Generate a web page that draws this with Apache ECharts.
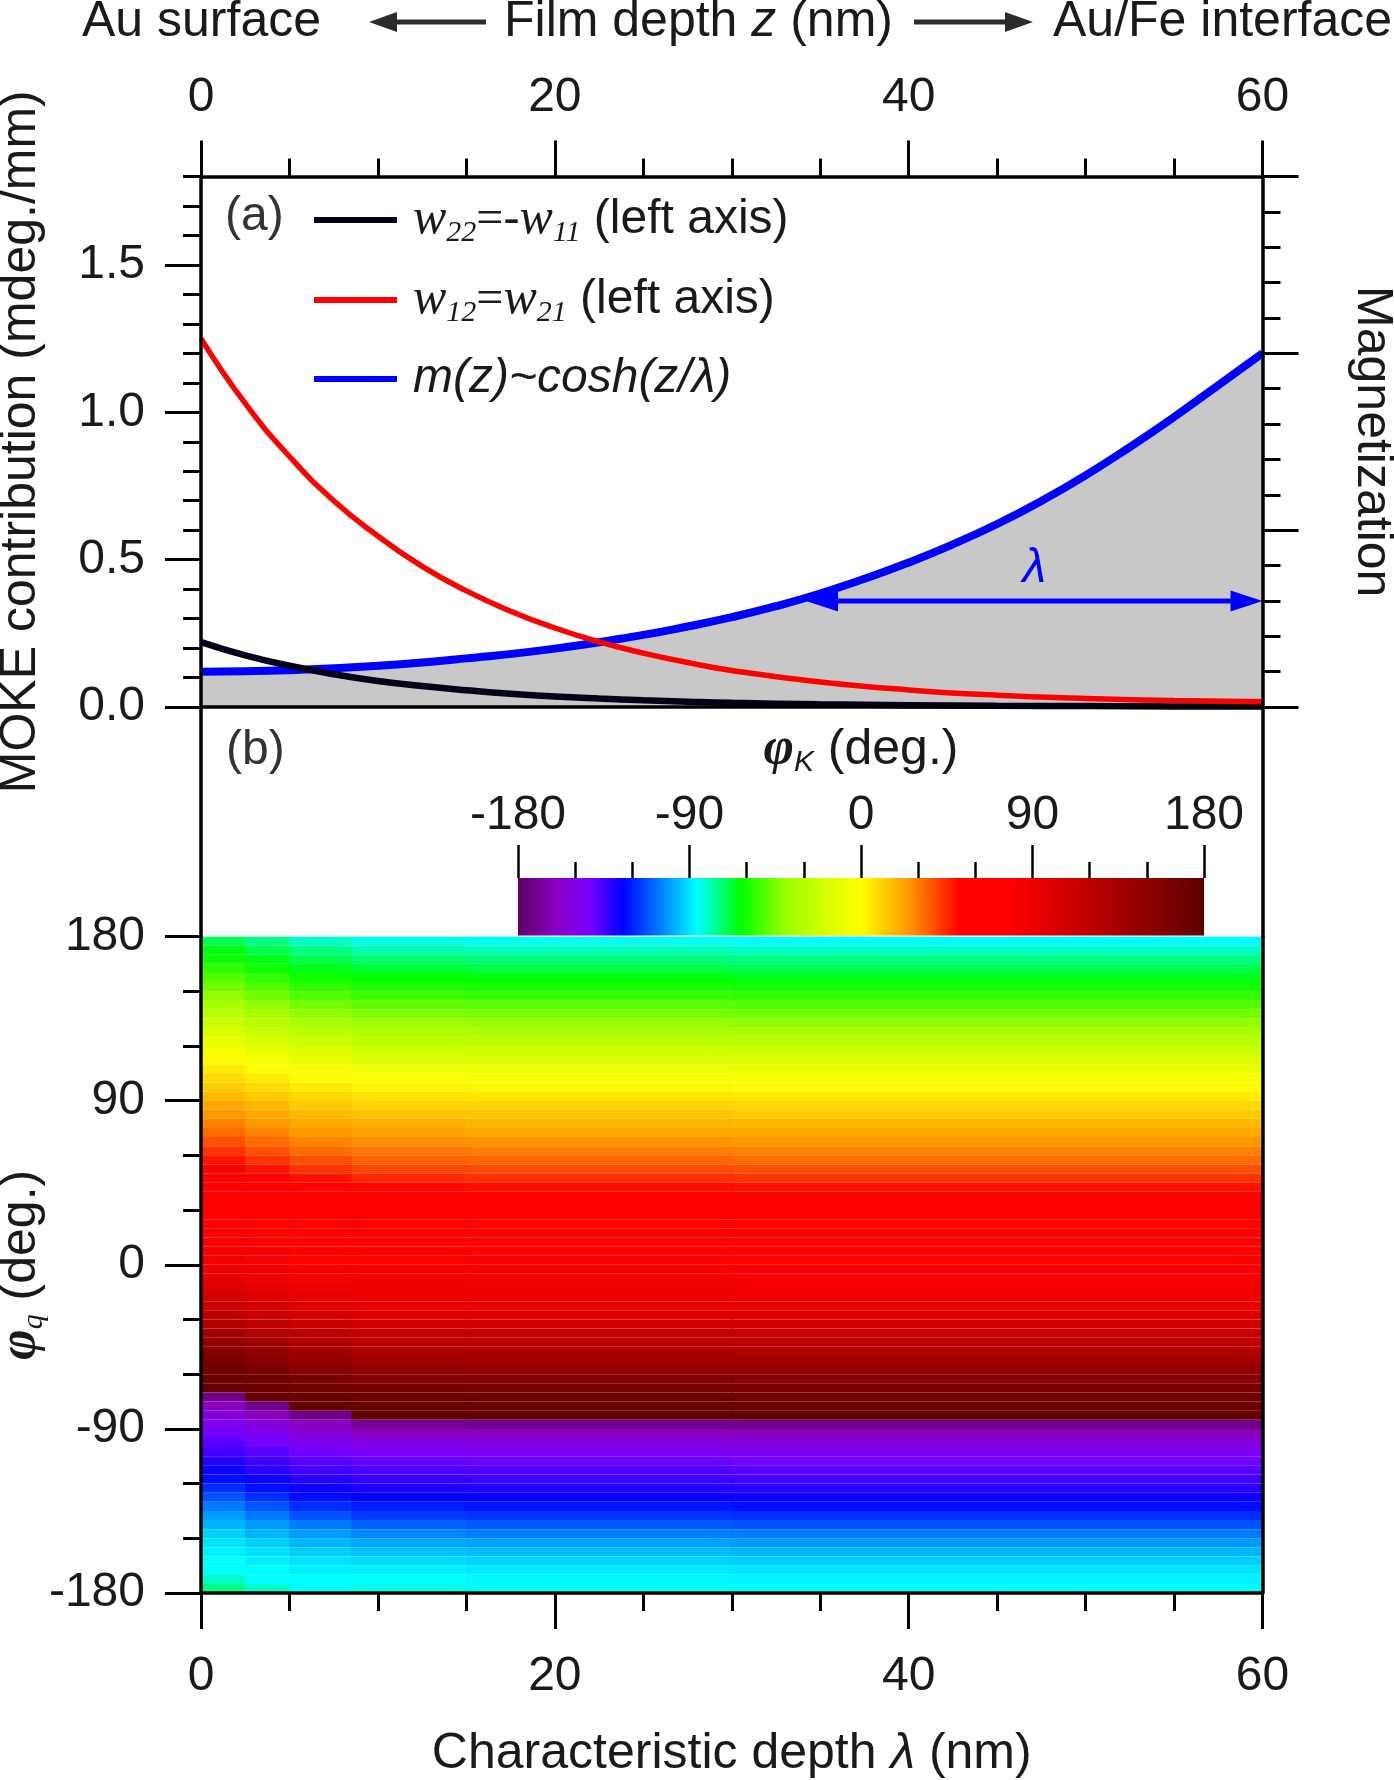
<!DOCTYPE html>
<html>
<head>
<meta charset="utf-8">
<script src="https://cdn.jsdelivr.net/npm/echarts@6/dist/echarts.min.js"></script>
<style>
  html, body { margin: 0; padding: 0; background: #fff; }
  #chart { width: 1394px; height: 1780px; }
</style>
</head>
<body>
<div id="chart"></div>
<script>
// ---- panel (a): contributions along the film depth z (nm) ----
const zPoints = [0, 2.5, 5, 7.5, 10, 12.5, 15, 17.5, 20, 22.5, 25, 27.5, 30, 35, 40, 45, 50, 55, 60];
const w22 = [0.22, 0.175, 0.14, 0.111, 0.088, 0.071, 0.057, 0.045, 0.036, 0.029, 0.023, 0.018, 0.014, 0.009, 0.006, 0.004, 0.003, 0.002, 0.0015];
const w12 = [1.25, 1.03, 0.85, 0.70, 0.58, 0.477, 0.394, 0.325, 0.268, 0.221, 0.183, 0.151, 0.124, 0.085, 0.058, 0.04, 0.029, 0.022, 0.018];
// magnetization, right axis (0..3)
const zMag = [0, 5, 10, 15, 20, 25, 27.5, 30, 32.5, 35, 37.5, 40, 42.5, 45, 47.5, 50, 52.5, 55, 57.5, 60];
const magnetization = [0.2, 0.208, 0.233, 0.275, 0.33, 0.408, 0.455, 0.508, 0.57, 0.642, 0.725, 0.817, 0.92, 1.035,
  1.165, 1.31, 1.47, 1.64, 1.82, 2.0];
// lambda arrow: from z, to z, at magnetization level
const lambdaArrow = [34.2, 60, 0.6];
const leftTicks = [0, 0.5, 1.0, 1.5];

// ---- panel (b): phi_K map over characteristic depth and phi_q ----
const lambdaEdges = [0, 2.5, 5, 8.5, 15, 30, 60];
const phiqRows = [177.5, 172.5, 167.5, 162.5, 157.5, 152.5, 147.5, 142.5, 137.5, 132.5, 127.5, 122.5,
  117.5, 112.5, 107.5, 102.5, 97.5, 92.5, 87.5, 82.5, 77.5, 72.5, 67.5, 62.5,
  57.5, 52.5, 47.5, 42.5, 37.5, 32.5, 27.5, 22.5, 17.5, 12.5, 7.5, 2.5,
  -2.5, -7.5, -12.5, -17.5, -22.5, -27.5, -32.5, -37.5, -42.5, -47.5, -52.5, -57.5,
  -62.5, -67.5, -72.5, -77.5, -82.5, -87.5, -92.5, -97.5, -102.5, -107.5, -112.5, -117.5,
  -122.5, -127.5, -132.5, -137.5, -142.5, -147.5, -152.5, -157.5, -162.5, -167.5, -172.5, -177.5];
const phiK = [
  [-70, -75, -81, -84, -85, -86],
  [-65, -70, -75, -79, -80, -81],
  [-61, -65, -70, -73, -74, -75],
  [-56, -61, -65, -68, -69, -70],
  [-51, -56, -61, -63, -64, -65],
  [-46, -51, -56, -59, -60, -61],
  [-41, -46, -51, -54, -55, -56],
  [-35, -41, -46, -49, -50, -51],
  [-29, -35, -41, -44, -45, -46],
  [-23, -29, -35, -39, -40, -41],
  [-17, -23, -29, -33, -34, -35],
  [-10, -17, -23, -27, -28, -29],
  [-4, -10, -17, -21, -22, -23],
  [1, -4, -10, -15, -16, -17],
  [5, 1, -4, -8, -9, -10],
  [9, 5, 1, -2, -3, -4],
  [13, 9, 5, 3, 2, 1],
  [17, 13, 9, 7, 6, 5],
  [21, 17, 13, 11, 10, 9],
  [25, 21, 17, 15, 14, 13],
  [29, 25, 21, 19, 18, 17],
  [33, 29, 25, 23, 22, 21],
  [38, 33, 29, 27, 26, 25],
  [43, 38, 33, 31, 30, 29],
  [49, 43, 38, 35, 34, 33],
  [55, 49, 43, 40, 39, 38],
  [60, 55, 49, 45, 44, 43],
  [64, 60, 55, 51, 50, 49],
  [68, 64, 60, 57, 56, 55],
  [71, 68, 64, 62, 61, 60],
  [74, 71, 68, 66, 65, 64],
  [77, 74, 71, 70, 69, 68],
  [80, 77, 74, 73, 72, 71],
  [82, 80, 77, 76, 75, 74],
  [84, 82, 80, 79, 78, 77],
  [86, 84, 82, 82, 81, 80],
  [89, 86, 84, 84, 83, 82],
  [93, 89, 86, 86, 85, 84],
  [99, 93, 89, 88, 87, 86],
  [106, 99, 93, 91, 90, 89],
  [113, 106, 99, 95, 94, 93],
  [120, 113, 106, 101, 100, 99],
  [128, 120, 113, 108, 107, 106],
  [137, 128, 120, 115, 114, 113],
  [146, 137, 128, 122, 121, 120],
  [155, 146, 137, 130, 129, 128],
  [163, 155, 146, 139, 138, 137],
  [168, 163, 155, 148, 147, 146],
  [172, 168, 163, 157, 156, 155],
  [176, 172, 168, 165, 164, 163],
  [-172, 176, 172, 170, 169, 168],
  [-161, -172, 176, 174, 173, 172],
  [-153, -161, -172, 178, 177, 176],
  [-147, -153, -161, -170, -171, -172],
  [-142, -147, -153, -159, -160, -161],
  [-138, -142, -147, -151, -152, -153],
  [-135, -138, -142, -145, -146, -147],
  [-131, -135, -138, -140, -141, -142],
  [-127, -131, -135, -136, -137, -138],
  [-123, -127, -131, -133, -134, -135],
  [-118, -123, -127, -129, -130, -131],
  [-112, -118, -123, -125, -126, -127],
  [-106, -112, -118, -121, -122, -123],
  [-101, -106, -112, -116, -117, -118],
  [-97, -101, -106, -110, -111, -112],
  [-93, -97, -101, -104, -105, -106],
  [-90, -93, -97, -99, -100, -101],
  [-88, -90, -93, -95, -96, -97],
  [-86, -88, -90, -91, -92, -93],
  [-86, -86, -88, -88, -89, -90],
  [-81, -86, -86, -86, -87, -88],
  [-75, -81, -86, -84, -85, -86]
];

// colour scale for phi_K (deg.)
const colorbarRange = [-180, 180];
const cmapDeg = [-180, -160, -143, -125, -105, -86, -63, -40, -20, 0, 25, 52, 78, 180];
const cmapColor = ['#5f0066', '#8a00c0', '#7a00ff', '#0000ff', '#0080ff', '#00ffff', '#00ff00',
  '#99ff00', '#d2ff00', '#ffff00', '#ff9900', '#ff0000', '#ff0000', '#5e0000'];

const FONT = "'Liberation Sans', Arial, sans-serif";
const SERIF = "'Liberation Serif', 'Times New Roman', serif";
const INK = '#1a1a1a';
const AXIS_LINE = { color: '#000', width: 3.5 };
const TICK = { color: '#000', width: 3 };
const LABEL = { fontSize: 48, fontFamily: FONT, color: INK };

function phiColor(v) {
  for (let i = 0; i < cmapDeg.length - 1; i++) {
    if (v <= cmapDeg[i + 1]) {
      const t = (v - cmapDeg[i]) / (cmapDeg[i + 1] - cmapDeg[i]);
      return echarts.color.lerp(Math.max(0, Math.min(1, t)), [cmapColor[i], cmapColor[i + 1]]);
    }
  }
  return cmapColor[cmapColor.length - 1];
}

function frameAxis(extra) {
  return Object.assign({
    type: 'value', z: 10,
    splitLine: { show: false },
    axisLine: { show: true, onZero: false, lineStyle: AXIS_LINE },
    axisTick: { show: false },
    axisLabel: { show: false }
  }, extra);
}

const heatData = [];
const rowHalf = Math.abs(phiqRows[1] - phiqRows[0]) / 2;
phiqRows.forEach(function (phi, i) {
  for (let j = 0; j < lambdaEdges.length - 1; j++) {
    heatData.push([lambdaEdges[j], lambdaEdges[j + 1], phi - rowHalf, phi + rowHalf, phiK[i][j]]);
  }
});

const legendLabels = {
  w22: '{w|w}{s|22}{e|=-}{w|w}{s|11}{t| (left axis)}',
  w12: '{w|w}{s|12}{e|=}{w|w}{s|21}{t| (left axis)}',
  m: '{it|m(z)~cosh(z/λ)}'
};

const chart = echarts.init(document.getElementById('chart'));

const gridBase = { containLabel: false, outerBoundsMode: 'none' };

chart.setOption({
  animation: false,
  backgroundColor: '#fff',
  textStyle: { fontFamily: FONT },
  grid: [
    Object.assign({ left: 201, top: 176.5, width: 1061.5, height: 530.5 }, gridBase),
    Object.assign({ left: 201, top: 936.5, width: 1061.5, height: 656.5 }, gridBase),
    Object.assign({ left: 201, top: 707, width: 1061.5, height: 229.5 }, gridBase),
    Object.assign({ left: 518, top: 878, width: 686, height: 57.5 }, gridBase)
  ],
  legend: {
    data: ['w22', 'w12', 'm'],
    orient: 'vertical',
    left: 309,
    top: 190,
    icon: 'rect',
    itemWidth: 83,
    itemHeight: 6,
    itemGap: 27,
    selectedMode: false,
    formatter: function (name) { return legendLabels[name]; },
    textStyle: {
      color: INK, fontFamily: FONT, fontSize: 48, padding: [0, 0, 0, 11],
      rich: {
        w: { fontFamily: SERIF, fontStyle: 'italic', fontSize: 50, lineHeight: 56, color: INK },
        s: { fontFamily: SERIF, fontStyle: 'italic', fontSize: 30, lineHeight: 12, verticalAlign: 'bottom', color: INK },
        e: { fontFamily: SERIF, fontSize: 48, lineHeight: 56, color: INK },
        t: { fontFamily: FONT, fontSize: 48, lineHeight: 56, color: INK },
        it: { fontFamily: FONT, fontStyle: 'italic', fontSize: 48, lineHeight: 56, color: INK }
      }
    }
  },
  xAxis: [
    frameAxis({
      gridIndex: 0, position: 'top', min: 0, max: 60, interval: 20,
      axisTick: { show: true, length: 36, lineStyle: TICK },
      minorTick: { show: true, splitNumber: 4, length: 18, lineStyle: TICK },
      axisLabel: Object.assign({ margin: 55 }, LABEL)
    }),
    frameAxis({ gridIndex: 0, position: 'bottom', min: 0, max: 60 }),
    frameAxis({
      gridIndex: 1, position: 'bottom', min: 0, max: 60, interval: 20,
      axisTick: { show: true, length: 36, lineStyle: TICK },
      minorTick: { show: true, splitNumber: 4, length: 18, lineStyle: TICK },
      axisLabel: Object.assign({ margin: 60 }, LABEL),
      name: 'Characteristic depth {i|λ} (nm)',
      nameLocation: 'middle', nameGap: 136,
      nameTextStyle: {
        fontSize: 50, fontFamily: FONT, color: INK,
        rich: { i: { fontStyle: 'italic', fontSize: 50, fontFamily: FONT, color: INK } }
      }
    }),
    { gridIndex: 2, type: 'value', show: false, min: 0, max: 60 },
    {
      gridIndex: 3, type: 'value', position: 'top', min: colorbarRange[0], max: colorbarRange[1], interval: 90, z: 10,
      splitLine: { show: false },
      axisLine: { show: false, onZero: false },
      axisTick: { show: true, length: 33, lineStyle: { color: '#000', width: 2.5 } },
      minorTick: { show: true, splitNumber: 3, length: 16, lineStyle: { color: '#000', width: 2.5 } },
      axisLabel: Object.assign({ margin: 38 }, LABEL),
      name: '{p|φ}{q|K}{t| (deg.)}',
      nameLocation: 'middle', nameGap: 100,
      nameTextStyle: {
        color: INK,
        rich: {
          p: { fontFamily: SERIF, fontStyle: 'italic', fontWeight: 'bold', fontSize: 52, lineHeight: 56, color: INK },
          q: { fontFamily: FONT, fontStyle: 'italic', fontSize: 30, lineHeight: 12, verticalAlign: 'bottom', color: INK },
          t: { fontFamily: FONT, fontSize: 50, lineHeight: 56, color: INK }
        }
      }
    }
  ],
  yAxis: [
    frameAxis({
      gridIndex: 0, position: 'left', min: 0, max: 1.8, interval: 0.5,
      axisTick: { show: true, length: 36, customValues: leftTicks, lineStyle: TICK },
      axisLabel: Object.assign({ margin: 56, customValues: leftTicks, formatter: function (v) { return v.toFixed(1); } }, LABEL),
      name: 'MOKE contribution (mdeg./mm)',
      nameLocation: 'middle', nameRotate: 90, nameGap: 155,
      nameTextStyle: { fontSize: 50, fontFamily: FONT, color: INK }
    }),
    frameAxis({
      gridIndex: 0, position: 'left', min: 0, max: 1.8, interval: 0.1,
      axisLine: { show: false, onZero: false },
      axisTick: { show: true, length: 18, lineStyle: TICK }
    }),
    frameAxis({
      gridIndex: 0, position: 'right', min: 0, max: 3, interval: 1,
      axisTick: { show: true, length: 36, lineStyle: TICK },
      minorTick: { show: true, splitNumber: 5, length: 18, lineStyle: TICK },
      name: 'Magnetization',
      nameLocation: 'middle', nameRotate: -90, nameGap: 84,
      nameTextStyle: { fontSize: 50, fontFamily: FONT, color: INK }
    }),
    frameAxis({
      gridIndex: 1, position: 'left', min: -180, max: 180, interval: 90,
      axisTick: { show: true, length: 36, lineStyle: TICK },
      minorTick: { show: true, splitNumber: 3, length: 18, lineStyle: TICK },
      axisLabel: Object.assign({ margin: 56 }, LABEL),
      name: '{p|φ}{q|q}{t| (deg.)}',
      nameLocation: 'middle', nameRotate: 90, nameGap: 152, nameMoveOverlap: false,
      nameTextStyle: {
        color: INK,
        rich: {
          p: { fontFamily: SERIF, fontStyle: 'italic', fontWeight: 'bold', fontSize: 52, lineHeight: 56, color: INK },
          q: { fontFamily: SERIF, fontStyle: 'italic', fontSize: 30, lineHeight: 12, verticalAlign: 'bottom', color: INK },
          t: { fontFamily: FONT, fontSize: 50, lineHeight: 56, color: INK }
        }
      }
    }),
    frameAxis({ gridIndex: 1, position: 'right', min: -180, max: 180 }),
    frameAxis({ gridIndex: 2, position: 'left', min: 0, max: 1 }),
    frameAxis({ gridIndex: 2, position: 'right', min: 0, max: 1 }),
    { gridIndex: 3, type: 'value', show: false, min: 0, max: 1 }
  ],
  series: [
    {
      name: 'm', type: 'line', xAxisIndex: 0, yAxisIndex: 2, z: 2,
      data: zMag.map(function (z, i) { return [z, magnetization[i]]; }),
      smooth: 0.5, symbol: 'none',
      lineStyle: { color: '#0000ff', width: 8 },
      itemStyle: { color: '#0000ff' },
      areaStyle: { color: '#c8c8c8', opacity: 1 }
    },
    {
      name: 'w22', type: 'line', xAxisIndex: 0, yAxisIndex: 0, z: 3,
      data: zPoints.map(function (z, i) { return [z, w22[i]]; }),
      smooth: 0.5, symbol: 'none',
      lineStyle: { color: '#06001a', width: 6.5 },
      itemStyle: { color: '#06001a' }
    },
    {
      name: 'w12', type: 'line', xAxisIndex: 0, yAxisIndex: 0, z: 3,
      data: zPoints.map(function (z, i) { return [z, w12[i]]; }),
      smooth: 0.5, symbol: 'none',
      lineStyle: { color: '#ff0000', width: 5.5 },
      itemStyle: { color: '#ff0000' }
    },
    {
      type: 'custom', xAxisIndex: 0, yAxisIndex: 2, z: 5, silent: true,
      data: [lambdaArrow],
      encode: { x: [0, 1], y: 2 },
      renderItem: function (params, api) {
        const a = api.coord([api.value(0), api.value(2)]);
        const b = api.coord([api.value(1), api.value(2)]);
        const head = 32, half = 10.5;
        return {
          type: 'group',
          children: [
            { type: 'line', shape: { x1: a[0] + head * 0.8, y1: a[1], x2: b[0] - head * 0.8, y2: b[1] },
              style: { stroke: '#0000ff', lineWidth: 5 } },
            { type: 'polygon', shape: { points: [[a[0], a[1]], [a[0] + head, a[1] - half], [a[0] + head, a[1] + half]] },
              style: { fill: '#0000ff' } },
            { type: 'polygon', shape: { points: [[b[0], b[1]], [b[0] - head, b[1] - half], [b[0] - head, b[1] + half]] },
              style: { fill: '#0000ff' } },
            { type: 'text', x: (a[0] + b[0]) / 2, y: a[1] - 8,
              style: { text: 'λ', fontSize: 48, fontFamily: FONT, fontStyle: 'italic', fill: '#0000ff', align: 'center', verticalAlign: 'bottom' } }
          ]
        };
      }
    },
    {
      type: 'custom', xAxisIndex: 2, yAxisIndex: 3, z: 1, silent: true, clip: true,
      data: heatData,
      encode: { x: [0, 1], y: [2, 3] },
      renderItem: function (params, api) {
        const p0 = api.coord([api.value(0), api.value(3)]);
        const p1 = api.coord([api.value(1), api.value(2)]);
        return {
          type: 'rect',
          shape: { x: p0[0], y: p0[1], width: p1[0] - p0[0] + 1, height: p1[1] - p0[1] },
          style: { fill: phiColor(api.value(4)) }
        };
      }
    },
    {
      type: 'custom', xAxisIndex: 4, yAxisIndex: 7, z: 1, silent: true,
      data: [[colorbarRange[0], colorbarRange[1], 0, 1]],
      encode: { x: [0, 1], y: [2, 3] },
      renderItem: function (params, api) {
        const p0 = api.coord([api.value(0), api.value(3)]);
        const p1 = api.coord([api.value(1), api.value(2)]);
        const stops = cmapDeg.map(function (d, i) {
          return { offset: (d - colorbarRange[0]) / (colorbarRange[1] - colorbarRange[0]), color: cmapColor[i] };
        });
        return {
          type: 'rect',
          shape: { x: p0[0], y: p0[1], width: p1[0] - p0[0], height: p1[1] - p0[1] },
          style: { fill: new echarts.graphic.LinearGradient(0, 0, 1, 0, stops) }
        };
      }
    }
  ],
  graphic: [
    { type: 'text', x: 82, y: 22, z: 20,
      style: { text: 'Au surface', fontSize: 50, fontFamily: FONT, fill: INK, align: 'left', verticalAlign: 'middle' } },
    { type: 'line', z: 20, shape: { x1: 392, y1: 22, x2: 486, y2: 22 }, style: { stroke: '#2b2b2b', lineWidth: 5 } },
    { type: 'polygon', z: 20, shape: { points: [[369, 22], [397, 12], [397, 32]] }, style: { fill: '#2b2b2b' } },
    { type: 'text', x: 504, y: 22, z: 20,
      style: {
        text: '{n|Film depth }{i|z}{n| (nm)}', align: 'left', verticalAlign: 'middle',
        rich: {
          n: { fontSize: 50, fontFamily: FONT, fill: INK },
          i: { fontSize: 50, fontFamily: FONT, fontStyle: 'italic', fill: INK }
        }
      } },
    { type: 'line', z: 20, shape: { x1: 914, y1: 22, x2: 1010, y2: 22 }, style: { stroke: '#2b2b2b', lineWidth: 5 } },
    { type: 'polygon', z: 20, shape: { points: [[1033, 22], [1005, 12], [1005, 32]] }, style: { fill: '#2b2b2b' } },
    { type: 'text', x: 1053, y: 22, z: 20,
      style: { text: 'Au/Fe interface', fontSize: 50, fontFamily: FONT, fill: INK, align: 'left', verticalAlign: 'middle' } },
    { type: 'text', x: 225, y: 217, z: 20,
      style: { text: '(a)', fontSize: 48, fontFamily: FONT, fill: '#333', align: 'left', verticalAlign: 'middle' } },
    { type: 'text', x: 226, y: 751, z: 20,
      style: { text: '(b)', fontSize: 48, fontFamily: FONT, fill: '#333', align: 'left', verticalAlign: 'middle' } }
  ]
});

window.addEventListener('resize', function () { chart.resize(); });
</script>
</body>
</html>
